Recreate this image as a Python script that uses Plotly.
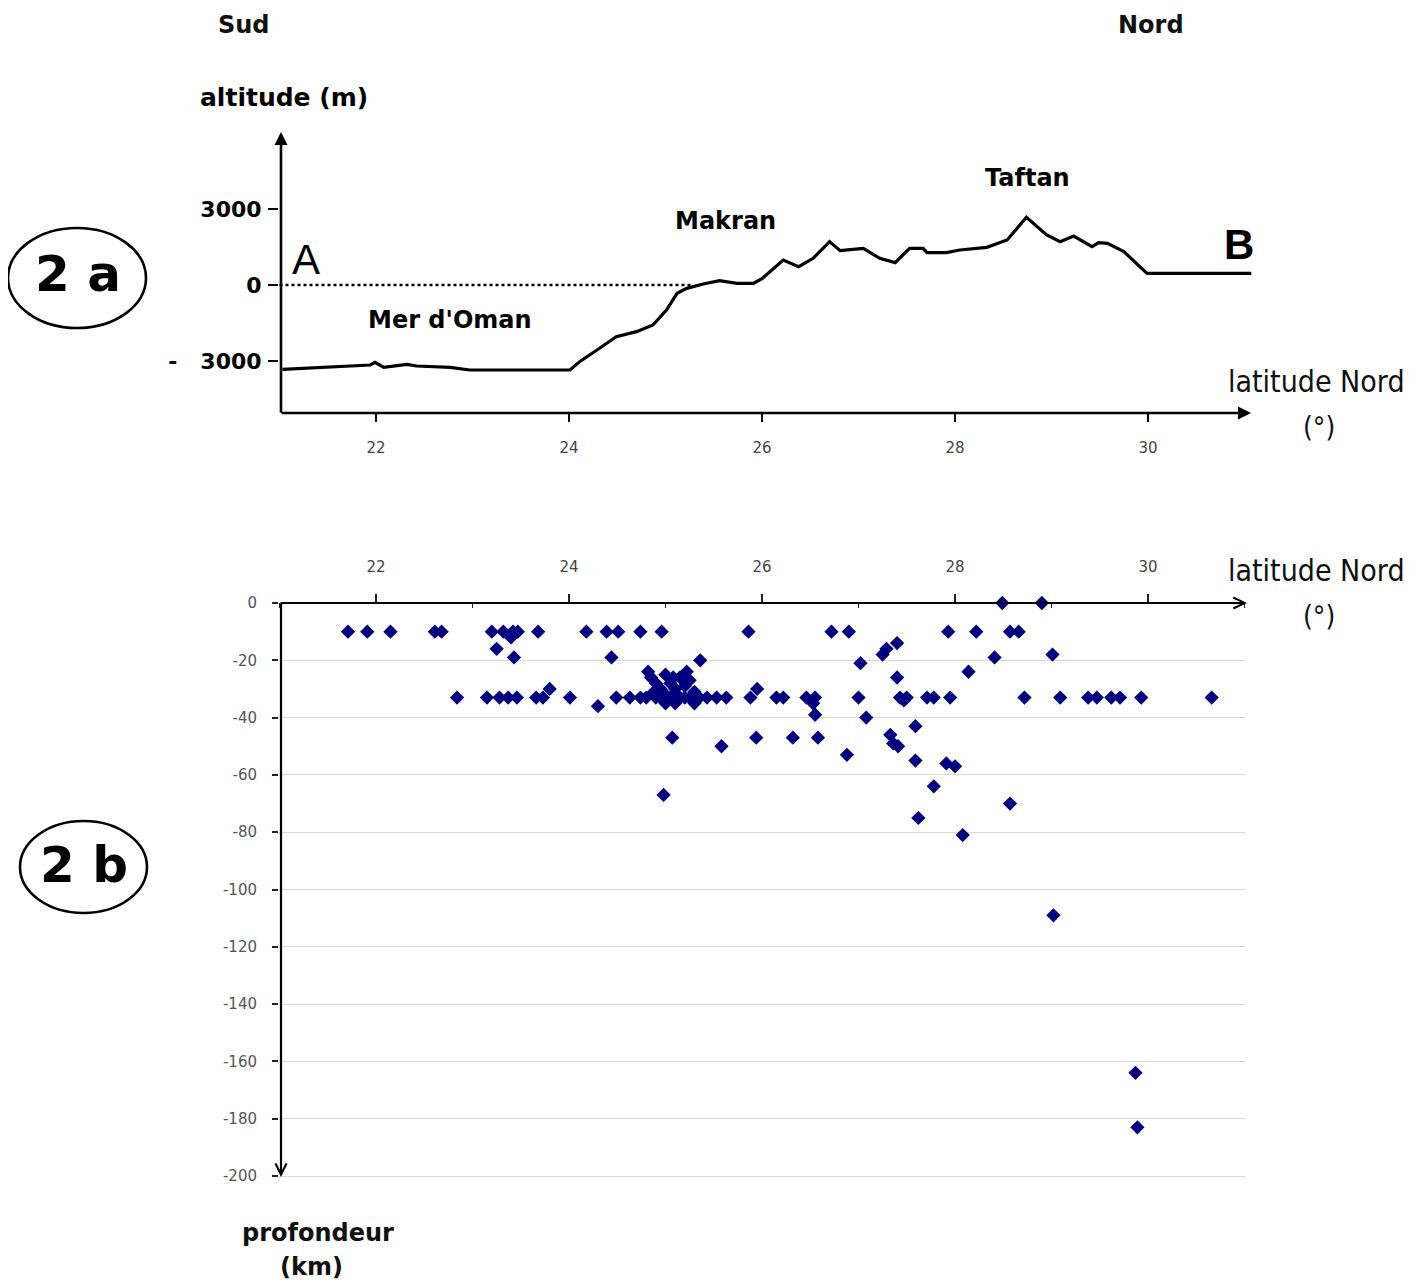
import plotly.graph_objects as go

W, H = 1427, 1288

# ---------------- data ----------------
# Topographic profile A-B (panel 2a)
profile_lat = [21.03, 21.44, 21.61, 21.94, 21.99, 22.08, 22.32, 22.42, 22.77, 22.97,
               24.01, 24.11, 24.29, 24.49, 24.70, 24.87, 25.01, 25.12, 25.22, 25.39,
               25.56, 25.74, 25.91, 26.00, 26.22, 26.38, 26.53, 26.70, 26.81, 27.05,
               27.22, 27.38, 27.53, 27.67, 27.71, 27.91, 28.05, 28.33, 28.54, 28.74,
               28.95, 29.09, 29.23, 29.42, 29.49, 29.58, 29.75, 29.99, 31.07]
profile_alt = [-3330, -3250, -3197, -3158, -3053, -3250, -3132, -3197, -3250, -3355,
               -3355, -3026, -2566, -2039, -1842, -1579, -987, -329, -132, 39,
               171, 66, 66, 250, 987, 724, 1053, 1711, 1355, 1447,
               1053, 882, 1447, 1447, 1276, 1276, 1382, 1487, 1776, 2671,
               1974, 1711, 1934, 1513, 1671, 1645, 1316, 461, 461]
sea_level_lat = [21.0, 25.27]
sea_level_alt = [0, 0]

# Earthquake hypocentres (panel 2b)
eq_lat = [
    # ~ -10 km row
    21.71, 21.91, 22.15, 22.61, 22.68, 23.20, 23.32, 23.42, 23.47, 23.68,
    24.18, 24.39, 24.51, 24.74, 24.96, 25.86, 26.72, 26.90, 27.93, 28.22,
    28.57, 28.66, 23.40,
    # surface
    28.49, 28.90,
    # shallow scattered
    23.25, 23.43, 24.44, 25.36, 27.40, 27.29, 27.25, 28.41, 29.01, 27.02,
    28.14, 27.40,
    # ~ -33 km row
    22.84, 23.15, 23.28, 23.37, 23.46, 23.66, 23.73, 24.01, 24.49, 24.63,
    24.74, 25.43, 25.53, 25.63, 25.88, 26.15, 26.22, 26.46, 26.55, 27.00,
    27.43, 27.50, 27.71, 27.78, 27.95, 28.72, 29.09, 29.38, 29.47, 29.62,
    29.71, 29.93, 30.66,
    # around the row
    23.80, 24.30, 24.82, 25.22, 25.95, 26.53, 27.47, 26.55, 27.08, 27.59,
    # dense cluster near 25 N
    24.85, 24.90, 24.95, 25.00, 25.05, 25.10, 25.15, 25.20, 25.25, 25.30,
    25.30, 25.10, 24.95, 25.05, 25.20, 25.25, 24.90, 25.00, 25.15, 24.88,
    25.08, 25.35, 24.80, 25.00,
    # deeper events
    25.07, 25.94, 25.58, 24.98, 26.32, 26.58, 27.33, 27.36, 27.41, 26.88,
    27.59, 27.91, 28.00, 27.78, 28.57, 27.62, 28.08, 29.02, 29.87, 29.89,
]
eq_depth = [
    -10, -10, -10, -10, -10, -10, -10, -10, -10, -10,
    -10, -10, -10, -10, -10, -10, -10, -10, -10, -10,
    -10, -10, -12,
    0, 0,
    -16, -19, -19, -20, -14, -16, -18, -19, -18, -21,
    -24, -26,
    -33, -33, -33, -33, -33, -33, -33, -33, -33, -33,
    -33, -33, -33, -33, -33, -33, -33, -33, -33, -33,
    -33, -33, -33, -33, -33, -33, -33, -33, -33, -33,
    -33, -33, -33,
    -30, -36, -24, -24, -30, -35, -34, -39, -40, -43,
    -26, -28, -30, -32, -28, -30, -33, -29, -27, -31,
    -35, -35, -33, -33, -33, -33, -33, -25, -26, -31,
    -26, -33, -33, -35,
    -47, -47, -50, -67, -47, -47, -46, -49, -50, -53,
    -55, -56, -57, -64, -70, -75, -81, -109, -164, -183,
]

lat_ticks = [22, 24, 26, 28, 30]
lat_minor_ticks = [21, 23, 25, 27, 29, 31]
alt_ticks = [-3000, 0, 3000]
alt_tick_text = ["-\u00a0\u00a0 3000", "0", "3000"]
depth_ticks = list(range(0, -201, -20))
depth_tick_text = [str(v).replace("\u2212", "-") for v in depth_ticks]

# ---------------- geometry helpers (target pixel -> paper / axis) ----------------
OFF = 8  # page body margin of the html output

def X(px):
    return (px - OFF) / W

def Y(py):
    return 1 - (py - OFF) / H

def lat_at(px):
    return 22 + (px - 376) / 96.5

def alt_at(py):
    return (285 - py) / 76 * 3000

def dep_at(py):
    return -(py - 603) / 2.865

BOLD = "DejaVu Sans"
NARROW = "DejaVu Sans Condensed, Liberation Sans Narrow, Liberation Sans"

fig = go.Figure()

fig.add_trace(go.Scatter(
    x=profile_lat, y=profile_alt, mode="lines",
    line=dict(color="black", width=3.2), xaxis="x", yaxis="y",
    hoverinfo="skip", showlegend=False, cliponaxis=False,
))
fig.add_trace(go.Scatter(
    x=sea_level_lat, y=sea_level_alt, mode="lines",
    line=dict(color="black", width=2.6, dash="dot"), xaxis="x", yaxis="y",
    hoverinfo="skip", showlegend=False,
))
fig.add_trace(go.Scatter(
    x=eq_lat, y=eq_depth, mode="markers",
    marker=dict(symbol="diamond", size=11, color="#00007f", line=dict(width=0)),
    xaxis="x2", yaxis="y2", showlegend=False, cliponaxis=False,
))

axis_common = dict(showgrid=False, zeroline=False, showline=False, fixedrange=True)

fig.update_layout(
    width=W, height=H,
    margin=dict(l=0, r=0, t=0, b=0, pad=0, autoexpand=False),
    paper_bgcolor="white", plot_bgcolor="white", showlegend=False,
    xaxis=dict(
        **axis_common, domain=[X(279), X(1256)], range=[lat_at(279), lat_at(1256)],
        anchor="y", tickvals=lat_ticks, ticks="outside", ticklen=8, tickwidth=2,
        tickcolor="black", ticklabelstandoff=13,
        tickfont=dict(family=BOLD, size=15, color="#444"),
    ),
    yaxis=dict(
        **axis_common, domain=[Y(413), Y(133)], range=[alt_at(413), alt_at(133)],
        anchor="x", tickvals=alt_ticks, ticktext=alt_tick_text, ticks="outside",
        ticklen=10, tickwidth=2, tickcolor="black", ticklabelstandoff=2,
        tickfont=dict(family=BOLD, size=22, color="black", weight="bold"),
    ),
    xaxis2=dict(
        **axis_common, domain=[X(279), X(1245)], range=[lat_at(279), lat_at(1245)],
        anchor="y2", side="top", tickvals=lat_ticks, ticks="outside", ticklen=8,
        tickwidth=1.5, tickcolor="#222", ticklabelstandoff=16,
        tickfont=dict(family=BOLD, size=15, color="#444"),
        minor=dict(tickvals=lat_minor_ticks, ticks="inside", ticklen=5,
                   tickwidth=1.2, tickcolor="#222"),
    ),
    yaxis2=dict(
        fixedrange=True, zeroline=False, showline=False,
        domain=[Y(1180), Y(603)], range=[dep_at(1180), 0], anchor="x2",
        tickvals=depth_ticks, ticktext=depth_tick_text, ticks="outside",
        ticklen=6, tickwidth=1.5, tickcolor="#222", ticklabelstandoff=12,
        showgrid=True, gridcolor="#d9d9d9", gridwidth=1,
        tickfont=dict(family=BOLD, size=15, color="#555"),
    ),
)

ann = []

def arrow(x0, y0, x1, y1, head, width):
    ann.append(dict(
        xref="paper", yref="paper", x=X(x1), y=Y(y1),
        axref="pixel", ayref="pixel", ax=x0 - x1, ay=y0 - y1,
        text="", showarrow=True, arrowhead=head, arrowsize=1.0,
        arrowwidth=width, arrowcolor="black",
    ))

# axes with arrows
arrow(281, 414, 281, 132, 2, 2.6)      # altitude axis
arrow(280, 413, 1251, 413, 2, 2.6)     # latitude axis (top)
arrow(279, 603, 1247, 603, 5, 2.2)     # latitude axis (bottom)
arrow(281, 602, 281, 1177, 5, 2.2)     # depth axis

def text(px, py, s, size, family=BOLD, bold=True, color="black", xanchor="center"):
    ann.append(dict(
        xref="paper", yref="paper", x=X(px), y=Y(py), text=s, showarrow=False,
        xanchor=xanchor, yanchor="middle",
        font=dict(family=family, size=size, color=color,
                  weight="bold" if bold else "normal"),
    ))

text(244, 25, "Sud", 24, color="#111")
text(1151, 25, "Nord", 24, color="#111")
text(284, 98, "altitude (m)", 25)
text(306, 259, "A", 42, family="Liberation Sans", bold=False)
text(1239, 245, "B", 42, family="Liberation Sans")
text(450, 320, "Mer d'Oman", 24)
text(725, 221, "Makran", 24)
text(1027, 178, "Taftan", 24)
text(1316, 381, "latitude Nord", 30, family=NARROW, bold=False, color="#111")
text(1319, 427, "(°)", 28, family=NARROW, bold=False, color="#111")
text(1316, 570, "latitude Nord", 30, family=NARROW, bold=False, color="#111")
text(1319, 616, "(°)", 28, family=NARROW, bold=False, color="#111")
text(318, 1233, "profondeur", 24, color="#111")
text(311, 1267, "(km)", 24, color="#111")
text(78, 274, "2 a", 50)
text(84, 865, "2 b", 50)

fig.update_layout(annotations=ann)

fig.add_shape(type="circle", xref="paper", yref="paper",
              x0=X(8), x1=X(146), y0=Y(328), y1=Y(228),
              line=dict(color="black", width=2.6))
fig.add_shape(type="circle", xref="paper", yref="paper",
              x0=X(20), x1=X(147), y0=Y(913), y1=Y(821),
              line=dict(color="black", width=2.6))

fig.write_html("out.html")
